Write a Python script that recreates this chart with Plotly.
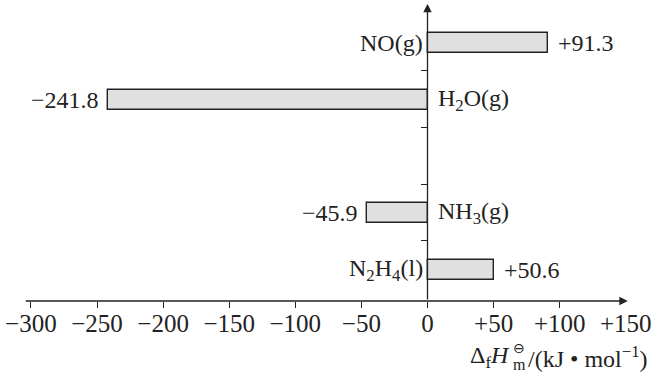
import plotly.graph_objects as go

# ---- data ----
species = ["N<sub>2</sub>H<sub>4</sub>(l)", "NH<sub>3</sub>(g)", "H<sub>2</sub>O(g)", "NO(g)"]
dfHm = [50.6, -45.9, -241.8, 91.3]
row_pos = [0.55, 1.55, 3.55, 4.55]
y_tick_pos = [1.06, 2.06, 3.06, 4.06]
x_tick_vals = [-300, -250, -200, -150, -100, -50, 0, 50, 100, 150]
x_tick_text = ["−300", "−250", "−200", "−150", "−100", "−50", "0", "+50", "+100", "+150"]

FONT = "Liberation Serif"
INK = "#222222"
W, H = 657, 375

fig = go.Figure()
fig.add_trace(go.Bar(
    x=dfHm, y=row_pos, orientation="h", width=0.36,
    marker=dict(color="#e0e0e0", line=dict(color=INK, width=1.4)),
    hoverinfo="skip", showlegend=False,
))

def fmt(v):
    return ("+" if v > 0 else "−") + f"{abs(v):.1f}"

ann = []
for name, v, y in zip(species, dfHm, row_pos):
    # value label at the end of the bar
    ann.append(dict(x=v, y=y, xref="x", yref="y", text=fmt(v), showarrow=False,
                    xanchor="left" if v > 0 else "right",
                    xshift=8 if v > 0 else -7,
                    font=dict(family=FONT, size=24, color=INK)))
    # species label on the other side of the axis
    ann.append(dict(x=0, y=y, xref="x", yref="y", text=name, showarrow=False,
                    xanchor="right" if v > 0 else "left",
                    xshift=-3 if v > 0 else 8,
                    font=dict(family=FONT, size=24, color=INK)))

# axis arrows
ann.append(dict(x=151.5, y=0, ax=-305, ay=0, xref="x", yref="y", axref="x", ayref="y",
                text="", showarrow=True, arrowhead=2, arrowsize=1.3, arrowwidth=1.3,
                arrowcolor=INK, standoff=0, startstandoff=0))
ann.append(dict(x=0, y=5.24, ax=0, ay=0, xref="x", yref="y", axref="x", ayref="y",
                text="", showarrow=True, arrowhead=2, arrowsize=1.3, arrowwidth=1.3,
                arrowcolor=INK, standoff=0, startstandoff=0))

# axis title, built from pieces so that the standard-state mark sits above the "m"
title_parts = [
    ("Δ<sub>f</sub><i>H</i>", 512, "right", -56, 24),
    ("m", 519, "center", -63, 16),
    ("⊖", 519, "center", -47, 14),
    ("/(kJ • mol<sup>−1</sup>)", 526, "left", -56, 24),
]
for txt, xp, xa, ys, fs in title_parts:
    ann.append(dict(x=xp / W, y=0, xref="paper", yref="paper", xanchor=xa, yanchor="middle",
                    yshift=ys, showarrow=False, text=txt,
                    font=dict(family=FONT, size=fs, color=INK)))

x0px = 427.5
scale = 1.322
xmin = -x0px / scale
xmax = (W - x0px) / scale
plot_h = 301
yunit = 56.7

fig.update_layout(
    width=W, height=H,
    margin=dict(l=0, r=0, t=0, b=H - plot_h, pad=0),
    paper_bgcolor="white", plot_bgcolor="white",
    annotations=ann,
    xaxis=dict(range=[xmin, xmax], showgrid=False, zeroline=False, showline=False,
               tickvals=x_tick_vals, ticktext=x_tick_text, ticks="",
               ticklabelstandoff=5,
               tickfont=dict(family=FONT, size=25, color=INK),
               minor=dict(tickvals=x_tick_vals[:-1], ticks="outside", ticklen=6,
                          tickwidth=1.2, tickcolor=INK, showgrid=False),
               fixedrange=True),
    yaxis=dict(range=[0, plot_h / yunit], showgrid=False, zeroline=False, showline=False,
               anchor="free", position=x0px / W, side="left",
               tickvals=y_tick_pos, ticks="outside", ticklen=7, tickwidth=1.2, tickcolor=INK,
               showticklabels=False, fixedrange=True),
    bargap=0,
)

fig.write_html("out.html")
